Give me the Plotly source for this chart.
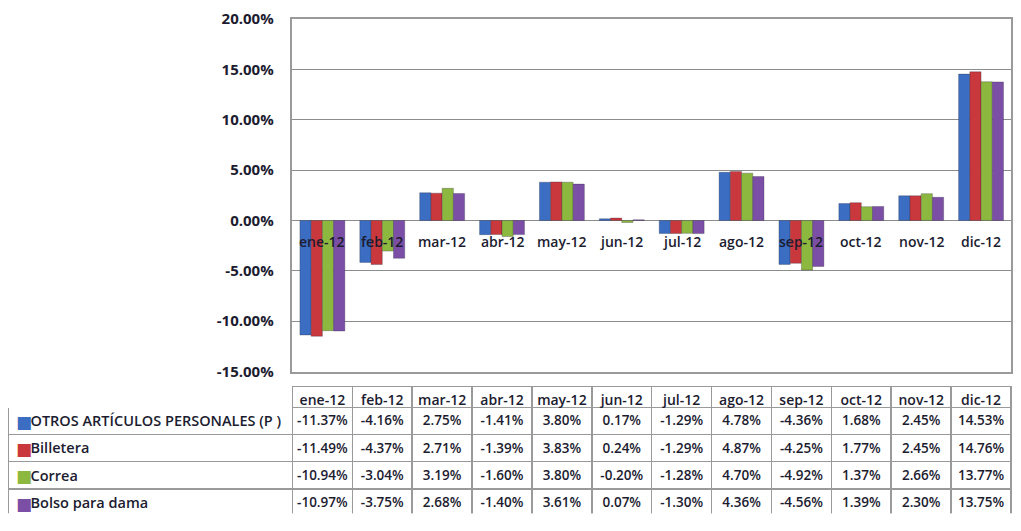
import plotly.graph_objects as go

# meses
months = ['ene-12', 'feb-12', 'mar-12', 'abr-12', 'may-12', 'jun-12',
          'jul-12', 'ago-12', 'sep-12', 'oct-12', 'nov-12', 'dic-12']

otros = [-11.37, -4.16, 2.75, -1.41, 3.80, 0.17, -1.29, 4.78, -4.36, 1.68, 2.45, 14.53]
billetera = [-11.49, -4.37, 2.71, -1.39, 3.83, 0.24, -1.29, 4.87, -4.25, 1.77, 2.45, 14.76]
correa = [-10.94, -3.04, 3.19, -1.60, 3.80, -0.20, -1.28, 4.70, -4.92, 1.37, 2.66, 13.77]
bolso = [-10.97, -3.75, 2.68, -1.40, 3.61, 0.07, -1.30, 4.36, -4.56, 1.39, 2.30, 13.75]

names = ['OTROS ARTÍCULOS PERSONALES (P )', 'Billetera', 'Correa', 'Bolso para dama']
y_ticks = [-15, -10, -5, 0, 5, 10, 15, 20]

COLOURS = ['#3B6DC2', '#C9383C', '#8DB83F', '#7B4FA6']
FONT = 'Open Sans'
TXT = '#1c1c30'
GRID = '#9a9a9a'

series = [otros, billetera, correa, bolso]

fig = go.Figure()
for name, vals, col in zip(names, series, COLOURS):
    fig.add_trace(go.Bar(name=name, x=months, y=vals,
                         marker=dict(color=col, line=dict(color='rgba(40,40,60,0.5)', width=0.6)),
                         showlegend=False, xaxis='x', yaxis='y'))

# etiquetas de categoria sobre la linea de cero (como en Excel)
for m in months:
    fig.add_annotation(x=m, y=0, xref='x', yref='y', text=m, showarrow=False,
                       yanchor='middle', yshift=-21,
                       font=dict(family=FONT, size=14, color=TXT, weight=600))

# tabla de datos (sin espacios normales para que plotly no parta las lineas)
NB = chr(160)
label_col = ['\u2003' + n.replace(' ', NB) for n in names]
value_cols = [[f'{s[i]:.2f}%' for s in series] for i in range(len(months))]

n_m = len(months)
tbl_dom = dict(x=[0, 1], y=[0, 0.2579])
col_w = [285] + [60] * n_m
hdr_h, row_h = 21, 27.2

fig.add_trace(go.Table(
    domain=tbl_dom, columnwidth=col_w,
    header=dict(values=[''] + months, height=hdr_h, fill_color='white',
                line=dict(color=['white'] + [GRID] * n_m, width=1.5),
                align='center', font=dict(family=FONT, size=14, color=TXT, weight=600)),
    cells=dict(values=[label_col] + value_cols, height=row_h, fill_color='white',
               line=dict(color=GRID, width=1.5),
               align=['left'] + ['center'] * n_m,
               font=dict(family=FONT, size=[14.5] + [13.5] * n_m, color=TXT, weight=600)),
))

# claves de color de la leyenda, delante de cada etiqueta
clear = 'rgba(0,0,0,0)'
fig.add_trace(go.Table(
    domain=tbl_dom, columnwidth=col_w,
    header=dict(values=[''] * (n_m + 1), height=hdr_h, fill_color=clear,
                line=dict(color=clear, width=0)),
    cells=dict(values=[['■'] * len(names)] + [[''] * len(names)] * n_m,
               height=row_h, fill_color=clear, line=dict(color=clear, width=0),
               align='left',
               font=dict(family='DejaVu Sans', size=[17] + [13.5] * n_m,
                         color=[COLOURS] + [[TXT] * len(names)] * n_m)),
))

# el navegador deja 8px de margen en body: lienzo util 1005x515
fig.update_layout(
    width=1005, height=515,
    margin=dict(l=0, r=0, t=11, b=0),
    paper_bgcolor='white', plot_bgcolor='white',
    barmode='group', bargap=0.25, bargroupgap=0,
    xaxis=dict(domain=[0.2836, 1], range=[-0.5, 11.5], showticklabels=False,
               showgrid=False, zeroline=False, showline=True, mirror=True,
               linecolor=GRID, linewidth=1.5, ticks=''),
    yaxis=dict(domain=[0.2877, 1], range=[-15, 20], tickvals=y_ticks,
               ticktext=[f'{v:.2f}%' for v in y_ticks],
               showgrid=True, gridcolor='#8c8c8c', gridwidth=1,
               zeroline=True, zerolinecolor='#8c8c8c', zerolinewidth=1,
               showline=True, mirror=True, linecolor=GRID, linewidth=1.5,
               ticks='', ticklabelstandoff=14,
               tickfont=dict(family=FONT, size=15, color=TXT, weight='bold')),
)

fig.write_html("out.html")
